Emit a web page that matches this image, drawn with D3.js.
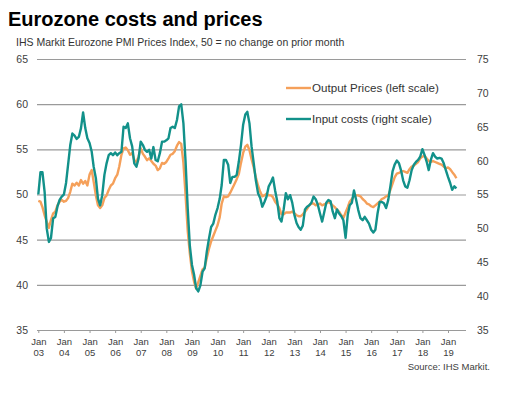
<!DOCTYPE html>
<html>
  <head>
    <title>Eurozone costs and prices</title>
    <script src="https://d3js.org/d3.v7.min.js"></script>
    <style>
      body { margin: 0; background: #fff; font-family: "Liberation Sans", Arial, sans-serif; }
      .title { font-size: 20px; font-weight: bold; fill: #000; }
      .subtitle { font-size: 10.5px; fill: #333; }
      .axis text { font-size: 10.5px; fill: #404040; font-family: "Liberation Sans", Arial, sans-serif; }
      .xaxis text { font-size: 9.5px; }
      .legend text { font-size: 11.6px; fill: #333; }
      .source { font-size: 9.5px; fill: #404040; }
    </style>
  </head>
  <body>
    <div id="chart"></div>
    <script>
      // monthly readings, Jan 2003 onwards
      const startMonth = new Date(2003, 0, 1);

      // Output prices (left scale)
      const outputPrices = [
        49.3, 49.2, 48.6, 47.7, 47.0, 46.3, 47.2, 47.9, 48.1, 48.8, 49.2, 49.4, // 2003
        49.2, 49.3, 49.6, 50.3, 51.2, 51.0, 51.3, 51.0, 51.6, 51.2, 51.5, 51.0, // 2004
        52.2, 52.7, 51.4, 49.9, 48.8, 48.5, 48.8, 49.6, 49.9, 50.5, 51.0, 51.2, // 2005
        51.8, 52.2, 53.1, 54.4, 55.1, 55.2, 54.9, 54.4, 54.6, 53.8, 53.6, 54.2, // 2006
        55.1, 54.5, 54.2, 53.8, 54.0, 53.7, 53.4, 53.2, 52.7, 52.9, 53.5, 53.4, // 2007
        53.6, 54.0, 54.4, 54.5, 54.8, 55.4, 55.8, 55.6, 53.5, 50.0, 46.0, 43.5, // 2008
        41.5, 40.3, 39.6, 40.3, 41.0, 41.7, 41.9, 43.0, 44.0, 44.8, 45.4, 46.0, // 2009
        46.6, 47.5, 49.0, 49.8, 49.7, 49.8, 50.2, 50.7, 51.2, 51.7, 52.3, 53.5, // 2010
        54.6, 55.3, 55.5, 54.9, 53.9, 53.0, 51.9, 51.0, 50.3, 49.8, 49.9, 50.1, // 2011
        49.9, 49.9, 49.7, 49.2, 48.9, 48.5, 47.8, 47.8, 48.0, 48.0, 48.0, 48.1, // 2012
        47.9, 47.7, 47.6, 47.6, 47.8, 48.1, 48.4, 48.8, 49.0, 49.0, 48.8, 48.9, // 2013
        49.0, 48.8, 48.9, 49.0, 49.2, 49.0, 48.8, 48.6, 48.3, 48.1, 47.7, 47.4, // 2014
        48.0, 48.6, 49.2, 49.5, 49.8, 49.9, 49.9, 49.8, 49.5, 49.3, 49.0, 48.9, // 2015
        48.7, 48.6, 48.8, 49.0, 49.2, 49.5, 49.6, 49.8, 49.9, 50.5, 51.2, 51.9, // 2016
        52.3, 52.4, 52.5, 52.6, 52.5, 52.4, 52.8, 53.1, 53.2, 53.4, 53.6, 54.0, // 2017
        54.2, 54.3, 54.0, 53.7, 53.6, 53.7, 53.6, 53.5, 53.4, 53.3, 53.1, 52.9, // 2018
        53.0, 52.8, 52.5, 52.2, 51.8                                            // 2019
      ];

      // Input costs (right scale)
      const inputCosts = [
        55.0, 58.3, 58.3, 55.4, 50.0, 48.0, 48.6, 51.5, 51.7, 53.2, 54.2, 54.7, // 2003
        55.0, 56.7, 59.4, 62.3, 64.0, 63.7, 63.2, 63.5, 64.8, 67.1, 64.8, 63.3, // 2004
        62.6, 61.3, 59.1, 57.4, 54.4, 53.4, 54.9, 57.9, 59.6, 60.8, 61.1, 60.8, // 2005
        61.2, 60.8, 61.1, 61.3, 65.0, 64.8, 65.5, 63.3, 62.1, 59.6, 59.1, 60.3, // 2006
        62.8, 62.3, 61.6, 61.3, 61.6, 60.3, 62.0, 60.1, 59.9, 61.1, 62.8, 62.8, // 2007
        63.0, 63.3, 64.8, 65.0, 64.8, 66.0, 68.0, 68.3, 65.5, 60.0, 53.0, 47.5, // 2008
        44.6, 43.1, 41.2, 40.7, 41.6, 43.6, 44.1, 46.6, 48.5, 50.2, 50.7, 52.0, // 2009
        53.0, 54.4, 56.4, 60.1, 60.1, 59.4, 56.7, 57.6, 57.6, 57.9, 59.9, 62.3, // 2010
        65.3, 66.8, 67.2, 65.5, 62.1, 59.6, 57.1, 55.2, 54.5, 53.2, 53.9, 54.7, // 2011
        56.2, 56.8, 57.5, 55.6, 54.0, 51.5, 51.0, 52.8, 55.2, 54.3, 54.9, 53.8, // 2012
        52.0, 50.8, 50.2, 49.8, 50.4, 52.8, 53.2, 53.4, 53.8, 54.7, 54.3, 53.5, // 2013
        52.2, 51.0, 52.3, 53.8, 54.2, 54.0, 52.5, 51.5, 52.8, 52.2, 51.8, 51.2, // 2014
        48.6, 52.0, 53.4, 53.8, 55.6, 54.2, 52.7, 51.5, 51.2, 51.7, 51.2, 50.7, // 2015
        49.8, 49.4, 49.8, 52.2, 53.9, 53.9, 53.7, 53.0, 54.2, 56.2, 58.4, 59.4, // 2016
        60.0, 59.6, 58.6, 57.1, 56.2, 56.0, 57.1, 58.6, 59.4, 59.8, 60.1, 60.6, // 2017
        61.7, 60.8, 59.9, 58.6, 60.1, 61.1, 60.6, 60.3, 60.4, 60.3, 59.6, 58.6, // 2018
        57.6, 56.7, 55.7, 56.2, 55.9                                            // 2019
      ];

      const leftTicks = [35, 40, 45, 50, 55, 60, 65];
      const rightTicks = [35, 40, 45, 50, 55, 60, 65, 70, 75];
      const seriesNames = ["Output Prices (left scale)", "Input costs (right scale)"];

      const W = 513, H = 399;
      const plot = { left: 37, right: 466, top: 59, bottom: 330 };
      const orange = "#f5a05a", teal = "#12918a";

      const svg = d3.select("#chart").append("svg")
        .attr("width", W).attr("height", H);

      // scales
      const x = d3.scaleTime()
        .domain([new Date(2003, 0, 1), new Date(2019, 0, 1)])
        .range([38.3, 448]);
      const yL = d3.scaleLinear().domain([35, 65]).range([plot.bottom, plot.top]);
      const yR = d3.scaleLinear().domain([35, 75]).range([plot.bottom, plot.top]);

      // title + subtitle
      svg.append("text").attr("class", "title").attr("x", 8).attr("y", 26)
        .text("Eurozone costs and prices");
      svg.append("text").attr("class", "subtitle").attr("x", 16).attr("y", 46)
        .text("IHS Markit  Eurozone PMI Prices Index, 50 = no change on prior month");

      // left axis with gridlines
      svg.append("g")
        .attr("class", "axis")
        .attr("transform", `translate(${plot.left},0)`)
        .call(d3.axisLeft(yL).tickValues(leftTicks)
          .tickSize(-(plot.right - plot.left)).tickPadding(9))
        .call(g => g.select(".domain").remove())
        .call(g => g.selectAll(".tick line").attr("stroke", "#9a9a9a").attr("stroke-width", 1.2));

      // right axis, labels only
      svg.append("g")
        .attr("class", "axis")
        .attr("transform", `translate(${plot.right},0)`)
        .call(d3.axisRight(yR).tickValues(rightTicks).tickSize(0).tickPadding(11))
        .call(g => g.select(".domain").remove());

      // bottom axis: Jan ticks, two-line labels
      const xAxis = svg.append("g")
        .attr("class", "axis xaxis")
        .attr("transform", `translate(0,${plot.bottom})`)
        .call(d3.axisBottom(x).ticks(d3.timeYear.every(1)).tickSize(3).tickFormat(""))
        .call(g => g.select(".domain").remove())
        .call(g => g.selectAll(".tick line").attr("stroke", "#9a9a9a"));

      xAxis.selectAll(".tick").append("text")
        .attr("fill", "#404040")
        .attr("text-anchor", "middle")
        .each(function (d) {
          const t = d3.select(this);
          t.append("tspan").attr("x", 0).attr("y", 15).text("Jan");
          t.append("tspan").attr("x", 0).attr("y", 25.5).text(d3.timeFormat("%y")(d));
        });

      // lines
      const dates = outputPrices.map((v, i) => d3.timeMonth.offset(startMonth, i));

      const lineL = d3.line().x((d, i) => x(dates[i])).y(d => yL(d));
      const lineR = d3.line().x((d, i) => x(dates[i])).y(d => yR(d));

      svg.append("path").datum(outputPrices)
        .attr("fill", "none").attr("stroke", orange)
        .attr("stroke-width", 2.4).attr("stroke-linejoin", "round")
        .attr("d", lineL);

      svg.append("path").datum(inputCosts)
        .attr("fill", "none").attr("stroke", teal)
        .attr("stroke-width", 2.4).attr("stroke-linejoin", "round")
        .attr("d", lineR);

      // legend
      const legend = svg.append("g").attr("class", "legend");
      [[orange, 88], [teal, 119]].forEach(([c, ly], i) => {
        legend.append("line")
          .attr("x1", 286).attr("x2", 311).attr("y1", ly).attr("y2", ly)
          .attr("stroke", c).attr("stroke-width", 2.4);
        legend.append("text").attr("x", 312).attr("y", ly + 4)
          .text(seriesNames[i]);
      });

      // source
      svg.append("text").attr("class", "source")
        .attr("x", 490).attr("y", 370).attr("text-anchor", "end")
        .text("Source: IHS Markit.");
    </script>
  </body>
</html>
